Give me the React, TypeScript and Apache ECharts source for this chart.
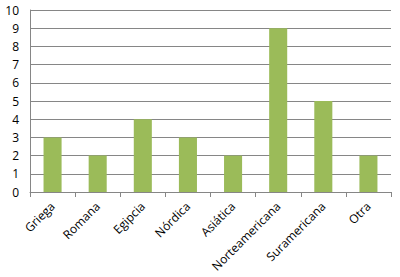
import React, { useEffect, useRef } from "react";
import * as echarts from "echarts";

const categories = ["Griega", "Romana", "Egipcia", "Nórdica", "Asiática", "Norteamericana", "Suramericana", "Otra"];
const values = [3, 2, 4, 3, 2, 9, 5, 2];

export default function App() {
  const ref = useRef<HTMLDivElement>(null);
  useEffect(() => {
    const chart = echarts.init(ref.current!, null, { renderer: "svg" });
    chart.setOption({
      animation: false,
      grid: { left: 30, right: 9, top: 10, bottom: 85, containLabel: false },
      xAxis: {
        type: "category",
        data: categories,
        axisLine: { lineStyle: { color: "#868686", width: 1 } },
        axisTick: { show: true, alignWithLabel: false, length: 5, lineStyle: { color: "#868686" } },
        axisLabel: { rotate: 45, color: "#000", fontSize: 12, fontFamily: "Open Sans", margin: 12, interval: 0 },
      },
      yAxis: {
        type: "value",
        min: 0,
        max: 10,
        interval: 1,
        axisLine: { show: true, lineStyle: { color: "#868686" } },
        axisTick: { show: false },
        splitLine: { lineStyle: { color: "#868686", width: 1 } },
        axisLabel: { color: "#000", fontSize: 12, fontFamily: "Open Sans", margin: 11 },
      },
      series: [
        {
          type: "bar",
          data: values,
          barWidth: "40%",
          itemStyle: { color: "#9BBB59" },
        },
      ],
    });
    return () => chart.dispose();
  }, []);
  return <div ref={ref} style={{ position: "fixed", left: 0, top: 0, width: 400, height: 277, background: "#fff" }} />;
}
